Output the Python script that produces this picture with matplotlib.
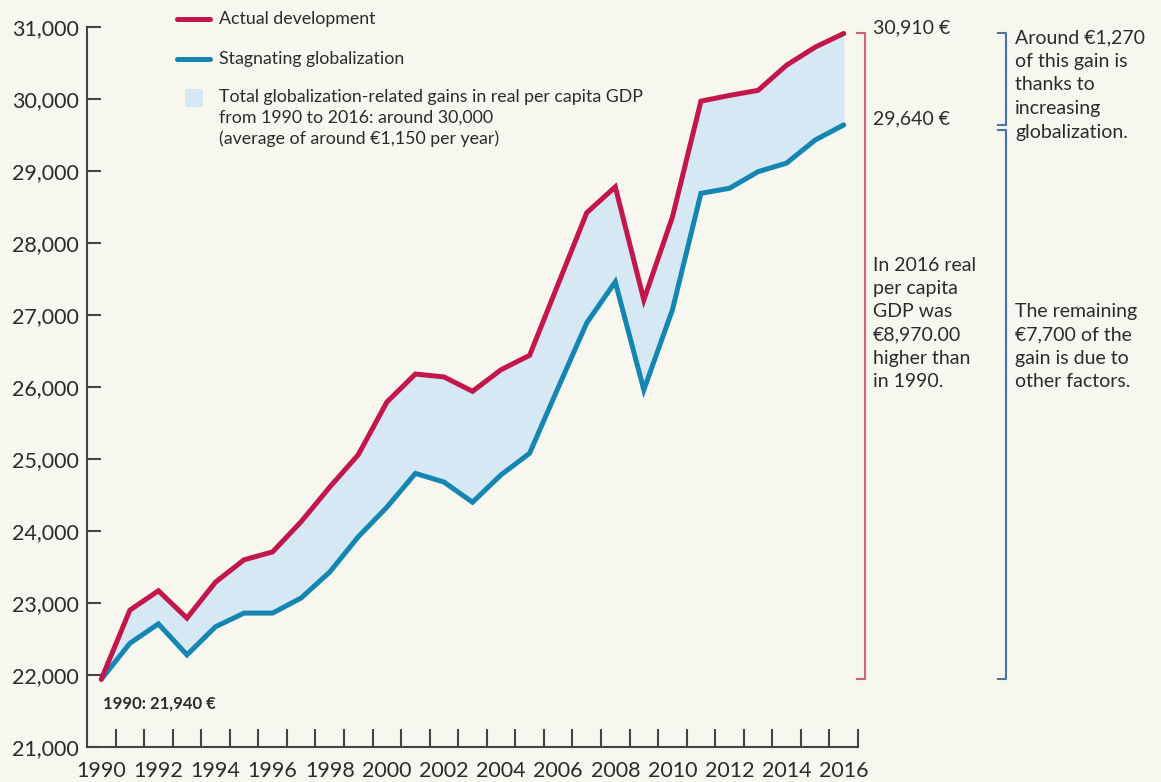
import matplotlib
matplotlib.use("Agg")
import matplotlib.pyplot as plt
from matplotlib.lines import Line2D
from matplotlib.patches import Rectangle
from matplotlib.ticker import FuncFormatter, MultipleLocator
from matplotlib import transforms

# Data (real per capita GDP, EUR)
years = list(range(1990, 2017))
actual = [21940, 22900, 23170, 22790, 23290, 23600, 23710, 24130, 24610, 25060,
          25790, 26180, 26140, 25940, 26240, 26440, 27430, 28420, 28780, 27210,
          28360, 29970, 30050, 30120, 30470, 30720, 30910]
stagnating = [21940, 22440, 22710, 22280, 22670, 22860, 22860, 23070, 23430, 23920,
              24330, 24800, 24680, 24400, 24780, 25080, 25990, 26890, 27460, 25960,
              27070, 28690, 28760, 28990, 29110, 29430, 29640]
start_value = 21940
end_actual = 30910
end_stagnating = 29640

RED = "#c3164c"
BLUE = "#1586b2"
FILL = "#d5e8f4"
BG = "#f7f6ef"
TXT = "#2b2b2b"

plt.rcParams['font.family'] = ['Lato', 'DejaVu Sans']

W, H = 1161, 782
fig = plt.figure(figsize=(W / 100, H / 100), dpi=100, facecolor=BG)
ax = fig.add_axes([87 / W, 1 - 747 / H, (858 - 87) / W, (747 - 27) / H])
ax.set_facecolor(BG)

def px(x, y):
    # pixel position (from top-left) to figure fraction
    return x / W, 1 - y / H

ax.fill_between(years, stagnating, actual, color=FILL, linewidth=0, zorder=1)
ax.plot(years, stagnating, color=BLUE, linewidth=3.6, solid_joinstyle='miter',
        solid_capstyle='round', zorder=2)
ax.plot(years, actual, color=RED, linewidth=3.6, solid_joinstyle='miter',
        solid_capstyle='round', zorder=3)

ax.set_xlim(1989.5, 2016.5)
ax.set_ylim(21000, 31000)

for s in ['top', 'right']:
    ax.spines[s].set_visible(False)
for s in ['left', 'bottom']:
    ax.spines[s].set_color('#444444')
    ax.spines[s].set_linewidth(1.5)

ax.set_xticks(years[::2])
ax.set_xticks([y + 0.5 for y in years], minor=True)
ax.tick_params(axis='x', which='major', length=0, labelsize=15.5, colors=TXT, pad=10)
ax.tick_params(axis='x', which='minor', direction='in', length=13, width=1.5, color='#444444')
ax.yaxis.set_major_locator(MultipleLocator(1000))
ax.yaxis.set_major_formatter(FuncFormatter(lambda v, p: f"{int(v):,}"))
ax.tick_params(axis='y', direction='in', length=10, width=1.5, color='#444444',
               labelsize=15.5, labelcolor=TXT, pad=6)

ax.text(1990.05, start_value - 220, "1990: 21,940 €", fontsize=12, fontweight='bold',
        color=TXT, va='top', ha='left')

# legend (drawn by hand)
fig.add_artist(Line2D([177 / W, 210 / W], [1 - 19 / H] * 2, color=RED, linewidth=3.6,
                      solid_capstyle='round'))
fig.add_artist(Line2D([177 / W, 210 / W], [1 - 59 / H] * 2, color=BLUE, linewidth=3.6,
                      solid_capstyle='round'))
fig.add_artist(Rectangle(px(185, 107), 18 / W, 18 / H, color=FILL, linewidth=0))
fig.text(*px(219, 19), "Actual development", fontsize=12.8, color=TXT, va='center')
fig.text(*px(219, 59), "Stagnating globalization", fontsize=12.8, color=TXT, va='center')
fig.text(*px(219, 89), "Total globalization-related gains in real per capita GDP\n"
         "from 1990 to 2016: around 30,000\n(average of around €1,150 per year)",
         fontsize=12.8, color=TXT, va='top', linespacing=1.35)

# brackets on the right
bt = transforms.blended_transform_factory(fig.transFigure, ax.transData)
def bracket(x, y0, y1, color):
    ln = Line2D([(x - 8) / W, x / W, x / W, (x - 8) / W], [y0, y0, y1, y1],
                transform=bt, color=color, linewidth=1.5, clip_on=False)
    fig.add_artist(ln)

bracket(865, end_actual, start_value, "#d6607a")
bracket(1006, end_actual, end_stagnating, "#4a72a8")
bracket(1006, end_stagnating - 70, start_value, "#4a72a8")

fig.text(873 / W, end_actual + 80, "30,910 €", transform=bt, fontsize=14, color=TXT, va='center')
fig.text(873 / W, end_stagnating + 80, "29,640 €", transform=bt, fontsize=14, color=TXT,
         va='center')
fig.text(*px(873, 257), "In 2016 real\nper capita\nGDP was\n€8,970.00\nhigher than\nin 1990.",
         fontsize=14, color=TXT, va='top', linespacing=1.44)
fig.text(*px(1015, 29), "Around €1,270\nof this gain is\nthanks to\nincreasing\nglobalization.",
         fontsize=14, color=TXT, va='top', linespacing=1.48)
fig.text(*px(1015, 303), "The remaining\n€7,700 of the\ngain is due to\nother factors.",
         fontsize=14, color=TXT, va='top', linespacing=1.46)

fig.savefig("out.png", dpi=100, facecolor=BG)
